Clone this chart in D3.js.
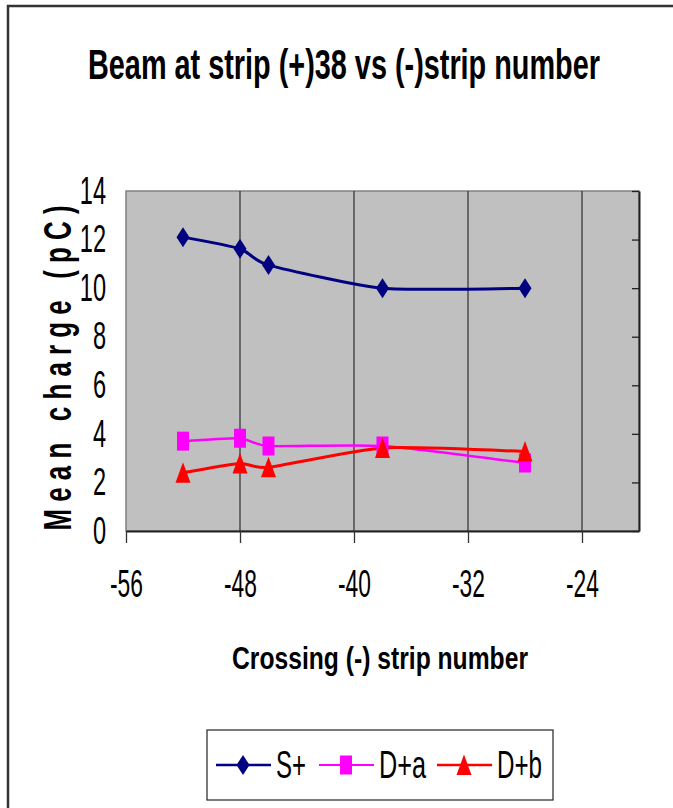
<!DOCTYPE html>
<html>
<head>
<meta charset="utf-8">
<script src="https://cdn.jsdelivr.net/npm/d3@7"></script>
<style>
  body { margin: 0; background: #fff; }
  text { font-family: "Liberation Sans", Arial, sans-serif; fill: #000; }
</style>
</head>
<body>
<script>
// data
var stripNumbers = [-52, -48, -46, -38, -28];
var sPlus = [12.1, 11.62, 10.95, 10.0, 10.0];
var dPlusA = [3.7, 3.82, 3.5, 3.5, 2.8];
var dPlusB = [2.4, 2.78, 2.62, 3.42, 3.27];
var xTicks = [-56, -48, -40, -32, -24];
var yTicks = [0, 2, 4, 6, 8, 10, 12, 14];
var seriesNames = ["S+", "D+a", "D+b"];

var w = 673, h = 808;
var plotLeft = 126, plotRight = 639, plotTop = 191, plotBottom = 531;

var svg = d3.select("body").append("svg")
    .attr("width", w)
    .attr("height", h);

// squeeze text horizontally, the original is a stretched picture
function squeeze(sel, f) {
    sel.each(function() {
        var len = this.getComputedTextLength();
        d3.select(this).attr("textLength", len * f).attr("lengthAdjust", "spacingAndGlyphs");
    });
}

// outer frame (cut off on right and bottom)
svg.append("rect")
    .attr("x", 8).attr("y", 6)
    .attr("width", 700).attr("height", 840)
    .attr("fill", "none")
    .attr("stroke", "#333")
    .attr("stroke-width", 2.5);

var x = d3.scaleLinear().domain([-56, -20]).range([plotLeft, plotRight]);
var y = d3.scaleLinear().domain([0, 14]).range([plotBottom, plotTop]);

// plot area
svg.append("rect")
    .attr("x", plotLeft).attr("y", plotTop)
    .attr("width", plotRight - plotLeft).attr("height", plotBottom - plotTop)
    .attr("fill", "#c0c0c0")
    .attr("stroke", "#808080")
    .attr("stroke-width", 1.5);

svg.selectAll("line.grid")
    .data(xTicks.slice(1))
    .enter()
    .append("line")
    .attr("class", "grid")
    .attr("x1", function(d) { return x(d); })
    .attr("x2", function(d) { return x(d); })
    .attr("y1", plotTop)
    .attr("y2", plotBottom)
    .attr("stroke", "#3a3a3a")
    .attr("stroke-width", 1.3);

// x axis
var xAxis = svg.append("g")
    .attr("transform", "translate(0," + plotBottom + ")")
    .call(d3.axisBottom(x).tickValues(xTicks).tickSizeInner(12).tickSizeOuter(0).tickPadding(27)
        .tickFormat(function(d) { return String(d); }));
xAxis.select(".domain").attr("stroke", "#222").attr("stroke-width", 2);
xAxis.selectAll(".tick line").attr("stroke", "#333").attr("stroke-width", 1.3);
xAxis.selectAll("text").attr("font-size", 38).attr("font-family", "Liberation Sans, Arial, sans-serif");

// y axis line on the right side with inward ticks
var yAxisR = svg.append("g")
    .attr("transform", "translate(" + plotRight + ",0)")
    .call(d3.axisRight(y).tickValues(yTicks).tickSizeInner(-7).tickSizeOuter(0).tickFormat(""));
yAxisR.select(".domain").attr("stroke", "#222").attr("stroke-width", 2);
yAxisR.selectAll(".tick line").attr("stroke", "#222").attr("stroke-width", 1.3);

// y labels on the left
var yAxisL = svg.append("g")
    .attr("transform", "translate(" + plotLeft + ",0)")
    .call(d3.axisLeft(y).tickValues(yTicks).tickSize(0).tickPadding(20));
yAxisL.select(".domain").remove();
yAxisL.selectAll("text").attr("font-size", 38).attr("font-family", "Liberation Sans, Arial, sans-serif");

// lines
var series = [
    { name: seriesNames[0], values: sPlus, color: "#000080", width: 3, marker: "diamond" },
    { name: seriesNames[1], values: dPlusA, color: "#ff00ff", width: 2.5, marker: "square" },
    { name: seriesNames[2], values: dPlusB, color: "#ff0000", width: 3, marker: "triangle" }
];

var line = d3.line()
    .x(function(d) { return x(d[0]); })
    .y(function(d) { return y(d[1]); })
    .curve(d3.curveCardinal.tension(0.4));

function markerPath(type) {
    if (type === "diamond") return "M0,-10L6.5,0L0,10L-6.5,0Z";
    if (type === "square") return "M-6,-9.5L6,-9.5L6,9.5L-6,9.5Z";
    return "M0,-10.5L7.5,10L-7.5,10Z";
}

series.forEach(function(s) {
    var pts = stripNumbers.map(function(v, i) { return [v, s.values[i]]; });
    svg.append("path")
        .datum(pts)
        .attr("d", line)
        .attr("fill", "none")
        .attr("stroke", s.color)
        .attr("stroke-width", s.width);
});

series.forEach(function(s) {
    var pts = stripNumbers.map(function(v, i) { return [v, s.values[i]]; });
    svg.selectAll("path.m-" + s.marker)
        .data(pts)
        .enter()
        .append("path")
        .attr("class", "m-" + s.marker)
        .attr("d", markerPath(s.marker))
        .attr("transform", function(d) { return "translate(" + x(d[0]) + "," + y(d[1]) + ")"; })
        .attr("fill", s.color);
});

// titles
svg.append("text")
    .text("Beam at strip (+)38 vs (-)strip number")
    .attr("x", 344).attr("y", 79)
    .attr("text-anchor", "middle")
    .attr("font-size", 42)
    .attr("font-weight", "bold")
    .attr("textLength", 512)
    .attr("lengthAdjust", "spacingAndGlyphs");

svg.append("text")
    .text("Crossing (-) strip number")
    .attr("x", 380).attr("y", 669)
    .attr("text-anchor", "middle")
    .attr("font-size", 32)
    .attr("font-weight", "bold")
    .attr("textLength", 296)
    .attr("lengthAdjust", "spacingAndGlyphs");

svg.append("text")
    .text("M e a n   c h a r g e   ( p C )")
    .attr("transform", "translate(71,368) rotate(-90)")
    .attr("text-anchor", "middle")
    .attr("style", "white-space: pre")
    .attr("font-size", 39)
    .attr("font-weight", "bold")
    .attr("textLength", 325)
    .attr("lengthAdjust", "spacingAndGlyphs");

squeeze(xAxis.selectAll("text"), 0.6);
squeeze(yAxisL.selectAll("text"), 0.62);

// legend
var legend = svg.append("g").attr("transform", "translate(207,730)");
legend.append("rect")
    .attr("width", 346).attr("height", 70)
    .attr("fill", "#fff")
    .attr("stroke", "#222")
    .attr("stroke-width", 1.2);

var legendX = [9, 112, 230];
var labelWidths = [30, 47, 45];
series.forEach(function(s, i) {
    var g = legend.append("g").attr("transform", "translate(" + legendX[i] + ",35)");
    g.append("line")
        .attr("x1", 0).attr("x2", 55)
        .attr("stroke", s.color)
        .attr("stroke-width", s.width - 0.5);
    g.append("path")
        .attr("d", markerPath(s.marker))
        .attr("transform", "translate(27,0)")
        .attr("fill", s.color);
    g.append("text")
        .text(s.name)
        .attr("x", 60)
        .attr("y", 13)
        .attr("font-size", 38)
        .attr("textLength", labelWidths[i])
        .attr("lengthAdjust", "spacingAndGlyphs");
});
</script>
</body>
</html>
